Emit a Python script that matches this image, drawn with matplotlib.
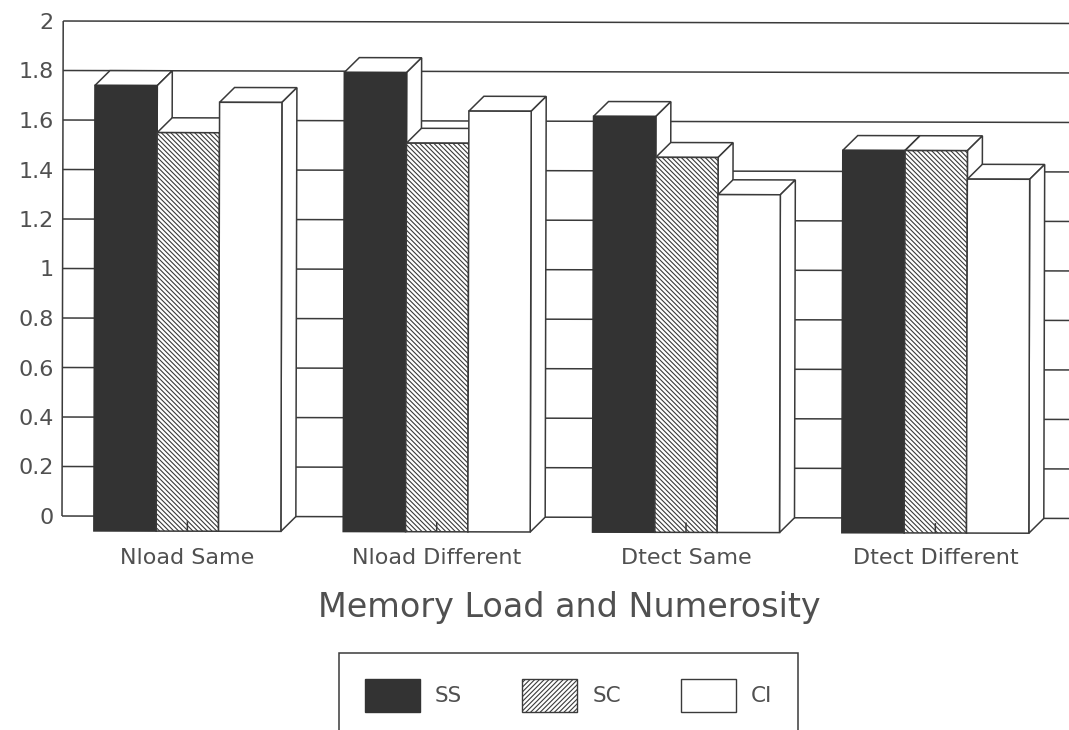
import matplotlib
matplotlib.use("Agg")
import matplotlib.pyplot as plt
from matplotlib.patches import Polygon, Patch
from matplotlib.transforms import Affine2D

groups = ["Nload Same", "Nload Different", "Dtect Same", "Dtect Different"]
ss = [1.80, 1.855, 1.68, 1.545]
sc = [1.61, 1.57, 1.515, 1.545]
ci = [1.733, 1.70, 1.365, 1.43]
yticks = [0, 0.2, 0.4, 0.6, 0.8, 1, 1.2, 1.4, 1.6, 1.8, 2]
ylabels = ["0", "0.2", "0.4", "0.6", "0.8", "1", "1.2", "1.4", "1.6", "1.8", "2"]
xlabel = "Memory Load and Numerosity"

W, H = 1069, 730
INK = "#3a3a3a"
TXT = "#505050"
DARK = "#333333"
plt.rcParams["font.family"] = "DejaVu Sans"
plt.rcParams["hatch.linewidth"] = 0.8
plt.rcParams["hatch.color"] = "#5a5a5a"

fig = plt.figure(figsize=(W / 100, H / 100), dpi=100, facecolor="white")
ax = fig.add_axes([62 / W, (H - 516) / H, (W - 62) / W, 495 / H])
ax.set_xlim(-0.503, 3.536)
ax.set_ylim(0, 2)
ax.patch.set_visible(False)
for s in ax.spines.values():
    s.set_visible(False)

# the scan is tilted very slightly clockwise
tr = ax.transData + Affine2D().rotate_deg_around(62, H - 516, -0.14)
bw = 0.25
depth = 0.06
lw = 1.1

ax.hlines(yticks, -0.503, 3.6, color=INK, lw=lw, transform=tr, zorder=1, clip_on=False)
ax.vlines(-0.503, 0, 2, color=INK, lw=lw, transform=tr, zorder=1, clip_on=False)

styles = [
    (ss, dict(facecolor=DARK, edgecolor=DARK)),
    (sc, dict(facecolor="white", edgecolor=INK, hatch="\\\\\\\\\\\\\\")),
    (ci, dict(facecolor="white", edgecolor=INK)),
]
z = 2
for g in range(len(groups)):
    for k, (vals, st) in enumerate(styles):
        v = vals[g]
        x0 = g + (k - 1.5) * bw
        x1 = x0 + bw
        y0 = -depth
        y1 = v - depth
        ax.add_patch(Polygon([(x0, y1), (x1, y1), (x1 + depth, v), (x0 + depth, v)], closed=True,
                             fc="white", ec=INK, lw=lw, transform=tr, zorder=z, clip_on=False))
        ax.add_patch(Polygon([(x1, y0), (x1 + depth, 0), (x1 + depth, v), (x1, y1)], closed=True,
                             fc="white", ec=INK, lw=lw, transform=tr, zorder=z, clip_on=False))
        ax.add_patch(Polygon([(x0, y0), (x1, y0), (x1, y1), (x0, y1)], closed=True,
                             lw=lw, transform=tr, zorder=z, clip_on=False, **st))
        z += 1
    ax.vlines(g, -depth, -0.02, color=INK, lw=lw, transform=tr, zorder=z, clip_on=False)
    z += 1

ax.set_yticks(yticks, ylabels, fontsize=16, color=TXT)
ax.set_xticks(range(len(groups)), groups, fontsize=16, color=TXT)
ax.tick_params(axis="y", length=0, pad=6)
ax.tick_params(axis="x", length=0, pad=23)
ax.set_xlabel(xlabel, fontsize=24, color=TXT)
ax.xaxis.set_label_coords((569 - 62) / (W - 62), -92 / 495, transform=ax.transAxes)
ax.xaxis.label.set_va("center")

handles = [
    Patch(fc=DARK, ec=DARK, label="SS"),
    Patch(fc="white", ec=INK, hatch="///////", label="SC"),
    Patch(fc="white", ec=INK, label="CI"),
]
leg = fig.legend(handles=handles, ncol=3, loc="upper left",
                 bbox_to_anchor=(339 / W, (H - 653) / H), bbox_transform=fig.transFigure,
                 fontsize=15.5, frameon=True, fancybox=False, framealpha=1,
                 edgecolor=INK, borderaxespad=0, borderpad=1.2,
                 handlelength=2.56, handleheight=2.0, handletextpad=0.7, columnspacing=2.78)
leg.get_frame().set_linewidth(lw)
for t in leg.get_texts():
    t.set_color(TXT)

fig.savefig("out.png", dpi=100)
